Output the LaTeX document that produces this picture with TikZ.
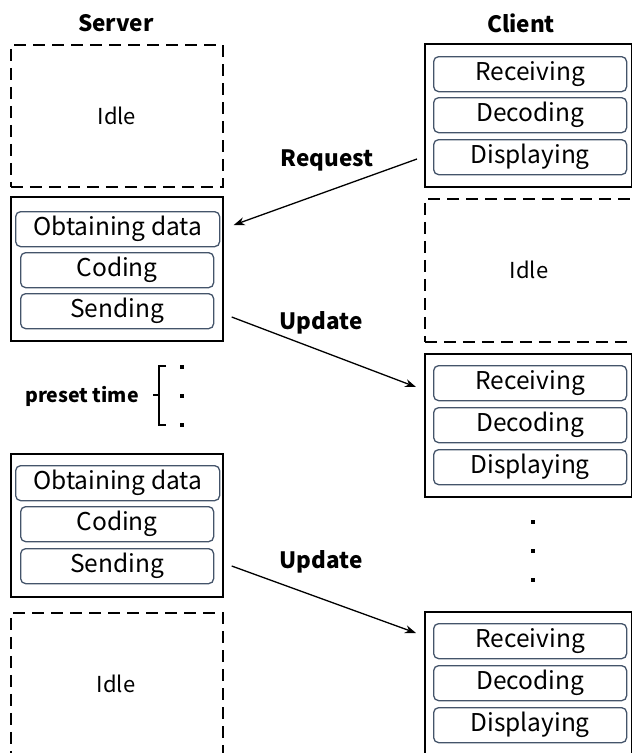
\documentclass[tikz,border=0pt]{standalone}
\usepackage{fontspec}
\setmainfont{Noto Sans CJK SC}
\usetikzlibrary{calc,arrows.meta}
\definecolor{stageline}{HTML}{44546A}

\tikzset{
  frame/.style={draw, line width=1.7pt, minimum width=212pt, minimum height=143pt,
    inner sep=0pt, anchor=north west},
  idlebox/.style={frame, dash pattern=on 12pt off 7pt,
    font=\fontsize{22}{26}\selectfont},
  stage/.style={draw=stageline, line width=1.3pt, rounded corners=5pt,
    minimum height=35pt, inner sep=0pt, anchor=north west,
    font=\fontsize{24.5}{26}\selectfont},
  wide/.style={minimum width=204pt},
  narrow/.style={minimum width=193pt},
  cstage/.style={stage, minimum width=193pt},
  title/.style={font=\bfseries\fontsize{22.5}{26}\selectfont},
  msg/.style={font=\bfseries\fontsize{22.5}{26}\selectfont},
  dot/.style={fill, minimum size=3.6pt, inner sep=0pt},
  link/.style={-{Stealth[length=11pt,width=8pt]}, line width=1.3pt},
}

\begin{document}
\begin{tikzpicture}[x=1pt,y=-1pt]
\useasboundingbox (0,0) rectangle (632,753);
\clip (0,0) rectangle (632,753);

% column titles
\node[title] (server) at (116,23) {Server};
\node[title] (client) at (521,23) {Client};

% server timeline
\node[idlebox, minimum height=142pt] (sIdleA) at (10,44) {Idle};

\node[frame, minimum height=144pt] (sA) at (10,196) {};
\node[stage, wide]   (sA1) at (15,211) {Obtaining data};
\node[stage, narrow] (sA2) at (20,252) {Coding};
\node[stage, narrow] (sA3) at (20,293) {Sending};

\node[frame, minimum height=143pt] (sB) at (10,453) {};
\node[stage, wide]   (sB1) at (15,465) {Obtaining data};
\node[stage, narrow] (sB2) at (20,506) {Coding};
\node[stage, narrow] (sB3) at (20,548) {Sending};

\node[idlebox, minimum height=160pt] (sIdleB) at (10,612) {};
\node[font=\fontsize{22}{26}\selectfont] (sIdleBtext) at (116,684) {Idle};

% preset time marker
\node[font=\bfseries\fontsize{19.5}{22}\selectfont] (preset) at (82,396) {preset time};
\node[dot] (pd1) at (182,367) {};
\node[dot] (pd2) at (182,396) {};
\node[dot] (pd3) at (182,425) {};
\draw[line width=1.3pt] (166,366) -- (159,366) -- (159,425) -- (166,425)
      (153,395) -- (159,395);

% client timeline
\node[frame, minimum width=207pt, minimum height=143pt] (c1) at (424,43) {};
\node[cstage] (c11) at (433,56)  {Receiving};
\node[cstage] (c12) at (433,97)  {Decoding};
\node[cstage] (c13) at (433,139) {Displaying};

\node[idlebox, minimum width=240pt, minimum height=143pt] (cIdle) at (424,198) {};
\node[font=\fontsize{22}{26}\selectfont] (cIdletext) at (529,270) {Idle};

\node[frame, minimum width=207pt, minimum height=143pt] (c2) at (424,353) {};
\node[cstage] (c21) at (433,365) {Receiving};
\node[cstage] (c22) at (433,407) {Decoding};
\node[cstage] (c23) at (433,449) {Displaying};

\node[dot] (cd1) at (533,522) {};
\node[dot] (cd2) at (533,551) {};
\node[dot] (cd3) at (533,580) {};

\node[frame, minimum width=207pt, minimum height=150pt] (c3) at (424,611) {};
\node[cstage] (c31) at (433,623) {Receiving};
\node[cstage] (c32) at (433,665) {Decoding};
\node[cstage] (c33) at (433,707) {Displaying};

% messages between the two sides
\draw[link] ($(c1.north west)+(-7,116)$) -- ($(sA.north east)+(10,29)$);
\node[msg] (req) at (327,160) {Request};

\draw[link] ($(sA.north east)+(8,121)$) -- ($(c2.north west)+(-8,34)$);
\node[msg] (upd1) at (321,323) {Update};

\draw[link] ($(sB.north east)+(8,113)$) -- ($(c3.north west)+(-8,22)$);
\node[msg] (upd2) at (321,562) {Update};
\end{tikzpicture}
\end{document}
